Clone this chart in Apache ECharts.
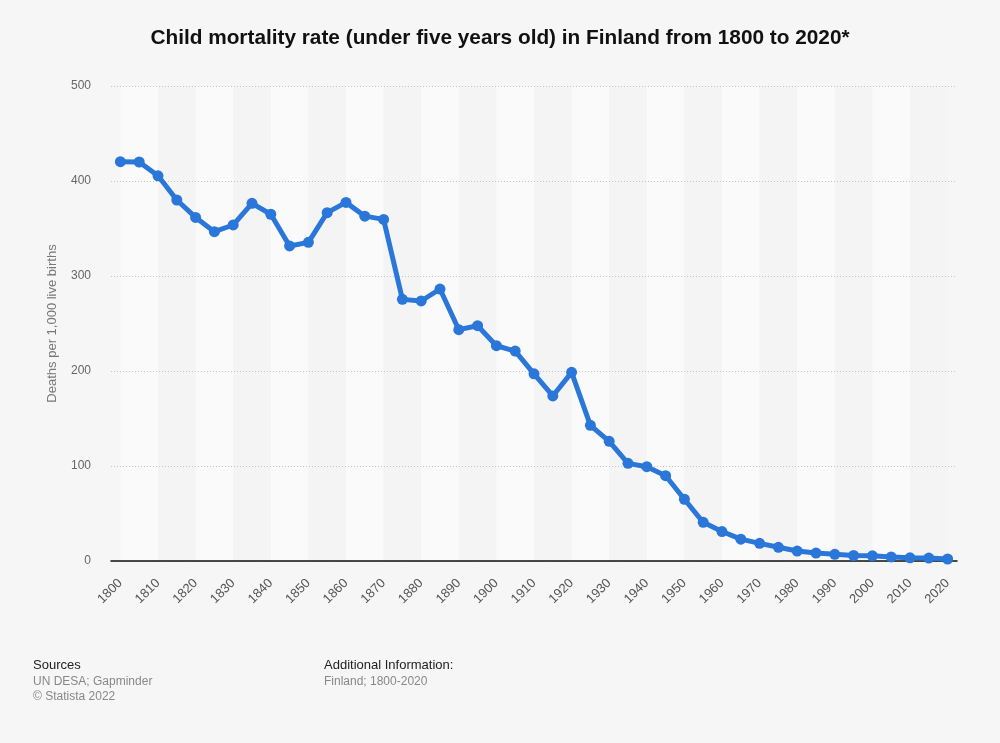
<!DOCTYPE html>
<html>
<head>
<meta charset="utf-8">
<style>
  html, body { margin: 0; padding: 0; background: #f6f6f6; }
  #chart { width: 1000px; height: 743px; }
</style>
<script src="https://cdn.jsdelivr.net/npm/echarts@6/dist/echarts.min.js"></script>
</head>
<body>
<div id="chart"></div>
<script>
const years = ['1800','1805','1810','1815','1820','1825','1830','1835','1840','1845',
  '1850','1855','1860','1865','1870','1875','1880','1885','1890','1895',
  '1900','1905','1910','1915','1920','1925','1930','1935','1940','1945',
  '1950','1955','1960','1965','1970','1975','1980','1985','1990','1995',
  '2000','2005','2010','2015','2020'];
const mortality = [420.3, 420.0, 405.5, 380.0, 361.7, 346.7, 353.7, 376.5, 365.0, 331.6,
  335.4, 366.7, 377.5, 363.0, 359.6, 275.4, 273.7, 286.3, 243.5, 247.7,
  226.6, 221.0, 197.0, 173.7, 198.6, 142.8, 126.0, 102.8, 99.3, 89.8,
  65.0, 40.7, 31.0, 23.0, 18.6, 14.4, 10.5, 8.4, 7.0, 5.8,
  5.5, 4.3, 3.3, 3.1, 2.1];
const yTicks = [0, 100, 200, 300, 400, 500];
const titleText = 'Child mortality rate (under five years old) in Finland from 1800 to 2020*';
const yAxisName = 'Deaths per 1,000 live births';

// decade bands between data points (1800-1810, 1810-1820, ...)
const bands = [];
for (let i = 0; i + 2 < years.length; i += 2) {
  bands.push([
    { xAxis: years[i], itemStyle: { color: (i / 2) % 2 === 0 ? '#fafafa' : '#f4f4f4' } },
    { xAxis: years[i + 2] }
  ]);
}

const FONT = 'Liberation Sans, Arial, sans-serif';
const chart = echarts.init(document.getElementById('chart'), null, { renderer: 'canvas' });
chart.setOption({
  backgroundColor: '#f6f6f6',
  animation: false,
  title: {
    text: titleText,
    left: 'center',
    top: 23,
    textStyle: { fontFamily: FONT, fontSize: 20.8, fontWeight: 'bold', color: '#111' }
  },
  grid: { left: 111, right: 43, top: 86, bottom: 182 },
  xAxis: {
    type: 'category',
    data: years,
    boundaryGap: true,
    z: 4,
    axisLine: { show: true, lineStyle: { color: '#111', width: 1.5 } },
    axisTick: { show: false },
    axisLabel: {
      interval: 1,
      rotate: 45,
      margin: 20,
      color: '#555',
      fontSize: 13,
      fontFamily: FONT
    },
    splitLine: { show: false }
  },
  yAxis: {
    type: 'value',
    min: yTicks[0],
    max: yTicks[yTicks.length - 1],
    interval: 100,
    z: 2,
    name: yAxisName,
    nameLocation: 'middle',
    nameGap: 52,
    nameTextStyle: { color: '#777', fontSize: 13, fontFamily: FONT },
    axisLine: { show: false },
    axisTick: { show: false },
    axisLabel: { color: '#666', fontSize: 12, margin: 20, fontFamily: FONT },
    splitLine: { show: true, lineStyle: { color: '#c4c4c4', type: [1, 2], width: 1 } }
  },
  series: [
    {
      type: 'line',
      data: [],
      z: 0,
      silent: true,
      markArea: { silent: true, data: bands }
    },
    {
      type: 'line',
      data: mortality,
      symbol: 'circle',
      symbolSize: 11,
      z: 5,
      lineStyle: { color: '#2a77d9', width: 5 },
      itemStyle: { color: '#2a77d9' }
    }
  ],
  graphic: [
    { type: 'text', left: 33, top: 659, style: { text: 'Sources', fill: '#222', fontSize: 13, fontFamily: FONT } },
    { type: 'text', left: 33, top: 676, style: { text: 'UN DESA; Gapminder', fill: '#888', fontSize: 12, fontFamily: FONT } },
    { type: 'text', left: 33, top: 691, style: { text: '© Statista 2022', fill: '#888', fontSize: 12, fontFamily: FONT } },
    { type: 'text', left: 324, top: 659, style: { text: 'Additional Information:', fill: '#222', fontSize: 13, fontFamily: FONT } },
    { type: 'text', left: 324, top: 676, style: { text: 'Finland; 1800-2020', fill: '#888', fontSize: 12, fontFamily: FONT } }
  ]
});
</script>
</body>
</html>
